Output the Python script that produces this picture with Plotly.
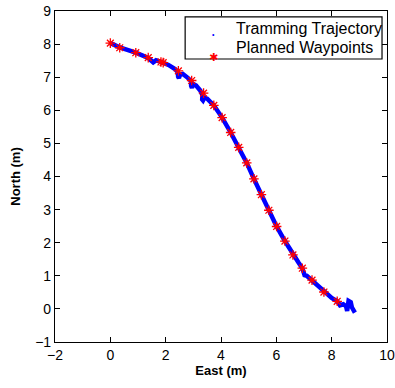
import plotly.graph_objects as go

# Planned waypoints (East, North)
wp_east = [0.00, 0.34, 0.92, 1.37, 1.83, 1.91, 2.46, 2.94, 3.37, 3.74, 4.04, 4.35,
           4.64, 4.93, 5.19, 5.46, 5.73, 6.01, 6.31, 6.60, 6.94, 7.29, 7.72, 8.20]
wp_north = [8.03, 7.89, 7.74, 7.59, 7.46, 7.44, 7.19, 6.90, 6.52, 6.15, 5.78, 5.33,
            4.88, 4.41, 3.93, 3.45, 2.98, 2.49, 2.05, 1.63, 1.23, 0.87, 0.51, 0.23]

# Tramming trajectory (East, North)
tr_east = [0.00, 0.34, 0.92, 1.37, 1.55, 1.65, 1.83, 1.91, 2.10, 2.35, 2.44, 2.45,
           2.48, 2.52, 2.62, 2.80, 2.92, 2.92, 2.95, 2.99, 3.10, 3.25, 3.33, 3.32,
           3.35, 3.40, 3.50, 3.74, 4.04, 4.35, 4.64, 4.93, 5.19, 5.46, 5.73, 6.01,
           6.31, 6.60, 6.80, 6.94, 7.02, 7.10, 7.29, 7.45, 7.55, 7.72, 8.00, 8.20,
           8.30, 8.42, 8.52, 8.56, 8.61, 8.69, 8.73, 8.84]
tr_north = [8.03, 7.90, 7.74, 7.58, 7.45, 7.51, 7.46, 7.44, 7.37, 7.24, 7.15, 7.02,
            6.97, 7.08, 7.10, 6.98, 6.88, 6.74, 6.68, 6.80, 6.75, 6.60, 6.45, 6.33,
            6.30, 6.38, 6.35, 6.15, 5.78, 5.33, 4.88, 4.41, 3.93, 3.45, 2.98, 2.49,
            2.05, 1.63, 1.40, 1.23, 1.02, 1.00, 0.86, 0.72, 0.65, 0.51, 0.33, 0.23,
            0.11, 0.14, 0.08, -0.06, 0.24, 0.20, 0.05, -0.11]

x_ticks = [-2, 0, 2, 4, 6, 8, 10]
y_ticks = [-1, 0, 1, 2, 3, 4, 5, 6, 7, 8, 9]
x_tick_text = ["\u22122", "0", "2", "4", "6", "8", "10"]
y_tick_text = ["\u22121", "0", "1", "2", "3", "4", "5", "6", "7", "8", "9"]
legend_names = ["Tramming Trajectory", "Planned Waypoints"]

FONT = "Liberation Sans, Arial, Helvetica, sans-serif"

fig = go.Figure()
fig.add_trace(go.Scatter(x=tr_east, y=tr_north, mode="lines",
                         line=dict(color="#0000ff", width=4.5),
                         name=legend_names[0], showlegend=False, hoverinfo="skip"))
fig.add_trace(go.Scatter(x=wp_east, y=wp_north, mode="markers",
                         marker=dict(symbol="asterisk-open", size=8,
                                     line=dict(color="#ff0000", width=1.3),
                                     color="#ff0000"),
                         name=legend_names[1], showlegend=False))

axis_common = dict(showgrid=False, zeroline=False, showline=True, linecolor="black",
                   linewidth=1.2, mirror="allticks", ticks="inside", ticklen=5,
                   tickcolor="black", automargin=False,
                   tickfont=dict(family=FONT, size=14, color="black"))

# Legend box drawn as a shape with text annotations (paper coordinates)
fig.add_shape(type="rect", xref="paper", yref="paper",
              x0=0.392, x1=0.985, y0=0.855, y1=0.982,
              line=dict(color="black", width=1.2), fillcolor="white", layer="above")
row_y = [0.946, 0.889]
fig.add_annotation(xref="paper", yref="paper", x=0.476, y=row_y[0], text="\u2022",
                   showarrow=False, font=dict(family=FONT, size=7, color="#0000ff"))
fig.add_annotation(xref="paper", yref="paper", x=0.476, y=row_y[1] - 0.004, text="\u2731",
                   showarrow=False, font=dict(family="DejaVu Sans", size=11, color="#ff0000"))
for name, yy in zip(legend_names, row_y):
    fig.add_annotation(xref="paper", yref="paper", x=0.538, y=yy, text=name,
                       xanchor="left", yanchor="middle", showarrow=False,
                       font=dict(family=FONT, size=16, color="black"))

fig.update_layout(
    width=395, height=388,
    margin=dict(l=55, r=8, t=11, b=46),
    paper_bgcolor="white", plot_bgcolor="white",
    font=dict(family=FONT, color="black"),
    xaxis=dict(range=[-2, 10], tickvals=x_ticks, ticktext=x_tick_text,
               title=dict(text="<b>East (m)</b>", font=dict(family=FONT, size=13), standoff=2),
               **axis_common),
    yaxis=dict(range=[-1, 9], tickvals=y_ticks, ticktext=y_tick_text,
               title=dict(text="<b>North (m)</b>", font=dict(family=FONT, size=13), standoff=11),
               **axis_common),
    showlegend=False,
)

fig.write_html("out.html", config={"displayModeBar": False},
               post_script="document.body.style.margin='0';document.body.style.padding='0';")
